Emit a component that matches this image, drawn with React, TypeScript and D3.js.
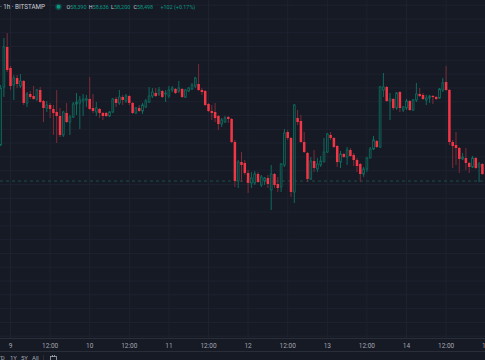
import React from "react";
import * as d3 from "d3";

const W = 485;
const H = 360;

// BTC/USD 1h candles, Bitstamp. Each row: [open, high, low, close]
const day8 = [
  [58773, 59643, 58758, 59599],
  [59614, 60324, 59469, 60194],
  [60194, 60396, 59831, 59860],
];
const day9 = [
  [59889, 59918, 59570, 59628], [59643, 59788, 59425, 59744], [59744, 59788, 59599, 59657], [59628, 59802, 59599, 59701],
  [59701, 59715, 59353, 59382], [59382, 59541, 59324, 59512], [59512, 59556, 59440, 59469], [59483, 59628, 59425, 59440],
  [59440, 59585, 59411, 59570], [59570, 59614, 59382, 59396], [59411, 59425, 59106, 59309], [59309, 59411, 59251, 59353],
  [59353, 59382, 59164, 59295], [59295, 59353, 58918, 59237], [59251, 59570, 58802, 59193], [59193, 59309, 58889, 58918],
  [58918, 59266, 58889, 59251], [59237, 59382, 59092, 59106], [59106, 59208, 58918, 59179], [59179, 59396, 59164, 59367],
  [59367, 59527, 59208, 59396], [59382, 59483, 59005, 59425], [59411, 59512, 59193, 59440], [59425, 59498, 59324, 59440],
];
const day10 = [
  [59440, 59759, 59280, 59295], [59309, 59512, 59237, 59266], [59251, 59396, 59193, 59309], [59295, 59309, 59164, 59237],
  [59237, 59251, 59135, 59193], [59237, 59251, 59179, 59193], [59193, 59266, 59179, 59251], [59251, 59454, 59237, 59440],
  [59440, 59469, 59324, 59382], [59382, 59570, 59353, 59469], [59469, 59498, 59353, 59425], [59411, 59512, 59382, 59483],
  [59483, 59498, 59353, 59382], [59382, 59396, 59222, 59237], [59237, 59324, 59222, 59309], [59309, 59353, 59251, 59266],
  [59266, 59382, 59222, 59353], [59324, 59440, 59309, 59411], [59396, 59614, 59382, 59483], [59483, 59599, 59454, 59541],
  [59527, 59599, 59469, 59483], [59512, 59614, 59483, 59570], [59556, 59570, 59454, 59469], [59512, 59570, 59396, 59527],
];
const day11 = [
  [59483, 59628, 59454, 59570], [59570, 59628, 59541, 59599], [59585, 59599, 59512, 59527], [59556, 59701, 59527, 59599],
  [59585, 59599, 59454, 59469], [59469, 59585, 59454, 59570], [59556, 59614, 59541, 59599], [59585, 59672, 59570, 59643],
  [59628, 59759, 59599, 59744], [59657, 59947, 59556, 59570], [59570, 59599, 59498, 59541], [59556, 59570, 59338, 59353],
  [59367, 59382, 59251, 59266], [59266, 59353, 59135, 59237], [59251, 59382, 59106, 59164], [59193, 59208, 58990, 59077],
  [59077, 59164, 59034, 59135], [59106, 59193, 59092, 59164], [59179, 59193, 59092, 59150], [59150, 59164, 58802, 58816],
  [58816, 58845, 58164, 58251], [58251, 58555, 58149, 58526], [58526, 58671, 58236, 58483], [58512, 58555, 58338, 58367],
];
const day12 = [
  [58367, 58410, 58077, 58222], [58222, 58381, 58149, 58294], [58222, 58396, 58193, 58352], [58352, 58381, 58222, 58236],
  [58193, 58338, 58164, 58309], [58251, 58309, 58193, 58294], [58294, 58338, 58149, 58207], [58120, 58483, 57830, 58352],
  [58352, 58367, 58149, 58193], [58207, 58309, 58091, 58149], [58164, 58512, 58091, 58497], [58483, 59005, 58454, 58947],
  [58961, 58990, 58845, 58874], [58874, 58889, 58019, 58091], [58091, 59367, 57932, 59353], [59164, 59280, 59063, 59106],
  [59121, 59208, 58802, 58816], [58816, 58961, 58657, 58671], [58657, 58671, 58236, 58280], [58280, 58599, 58265, 58541],
  [58541, 58700, 58381, 58439], [58425, 58584, 58381, 58497], [58483, 58613, 58454, 58541], [58526, 58874, 58526, 58671],
];
const day13 = [
  [58671, 58947, 58657, 58932], [58918, 58961, 58845, 58874], [58874, 58889, 58729, 58744], [58758, 58773, 58454, 58526],
  [58526, 58686, 58439, 58642], [58642, 58657, 58584, 58599], [58599, 58744, 58483, 58700], [58700, 58729, 58599, 58613],
  [58628, 58657, 58468, 58555], [58555, 58584, 58381, 58468], [58497, 58512, 58236, 58352], [58352, 58454, 58309, 58425],
  [58425, 58599, 58381, 58584], [58584, 58744, 58584, 58715], [58715, 58903, 58700, 58845], [58831, 58845, 58729, 58744],
  [58744, 59628, 58729, 59614], [59570, 59817, 59469, 59614], [59614, 59628, 59396, 59411], [59411, 59527, 59135, 59440],
  [59440, 59454, 59280, 59309], [59309, 59541, 59280, 59527], [59541, 59556, 59251, 59309], [59280, 59338, 59251, 59324],
];
const day14 = [
  [59309, 59440, 59280, 59411], [59411, 59425, 59266, 59280], [59280, 59440, 59266, 59425], [59425, 59672, 59396, 59512],
  [59512, 59599, 59469, 59483], [59498, 59527, 59425, 59440], [59425, 59498, 59353, 59454], [59454, 59498, 59382, 59483],
  [59483, 59498, 59367, 59469], [59469, 59483, 59425, 59440], [59454, 59599, 59440, 59585], [59570, 59744, 59541, 59672],
  [59686, 59918, 59556, 59570], [59570, 59585, 58773, 58816], [58816, 58845, 58439, 58758], [58773, 58961, 58483, 58729],
  [58729, 58744, 58367, 58570], [58570, 58657, 58555, 58599], [58584, 58729, 58410, 58512], [58512, 58526, 58367, 58454],
  [58454, 58613, 58439, 58584], [58584, 58599, 58425, 58439], [58454, 58526, 58236, 58497], [58497, 58512, 58338, 58352],
];

const firstCandle = Date.UTC(2024, 7, 8, 21);
const lastPrice = 58250;
const legendKeys = ["O", "H", "L", "C"];
const legendValues = ["58,390", "58,636", "58,200", "58,498"];
const legendChange = "+102 (+0.17%)";
const rangeButtons = ["YTD", "1Y", "5Y", "All"];

const BG = "#161a25";
const GRID = "#1e2230";
const UP = "#0e6b5e";
const UP_FILL = "#14262b";
const DOWN = "#f23645";
const DOWN_WICK = "#7e2a37";
const TEXT = "#a3a6af";
const FONT = "Roboto, 'Liberation Sans', sans-serif";

export default function App() {
  const plotBottom = 338;

  const candles = [day8, day9, day10, day11, day12, day13, day14].flat().map((d, i) => ({
    date: new Date(firstCandle + i * 3600 * 1000),
    open: d[0],
    high: d[1],
    low: d[2],
    close: d[3],
  }));

  const x = d3
    .scaleUtc()
    .domain([new Date(Date.UTC(2024, 7, 9)), new Date(Date.UTC(2024, 7, 15))])
    .range([10.5, 485.7]);
  const y = d3.scaleLinear().domain([55974, 60875]).range([plotBottom, 0]);

  const timeTicks = x.ticks(d3.utcHour.every(12));
  const fmt = (d) => (d.getUTCHours() === 0 ? d3.utcFormat("%-d")(d) : "12:00");
  const priceTicks = d3.range(56000, 61000, 200);
  const bodyW = 2.5;

  return (
    <div style={{ position: "fixed", left: 0, top: 0, width: W, height: H }}>
      <svg width={W} height={H} style={{ display: "block", background: BG }}>
        <rect width={W} height={H} fill={BG} />
        <g>
          {priceTicks.map((p) => (
            <line key={p} x1={0} x2={W} y1={y(p)} y2={y(p)} stroke={GRID} strokeWidth={1} />
          ))}
          {timeTicks.map((t) => (
            <line key={+t} x1={x(t)} x2={x(t)} y1={0} y2={plotBottom} stroke={GRID} strokeWidth={1} />
          ))}
        </g>
        <line x1={0} x2={W} y1={y(lastPrice)} y2={y(lastPrice)} stroke="#1b4d48" strokeWidth={1} strokeDasharray="3,3" />
        <g>
          {candles.map((c, i) => {
            const cx = x(c.date);
            const up = c.close >= c.open;
            const top = y(Math.max(c.open, c.close));
            const bot = y(Math.min(c.open, c.close));
            return (
              <g key={i}>
                <line x1={cx} x2={cx} y1={y(c.high)} y2={y(c.low)} stroke={up ? UP : DOWN_WICK} strokeWidth={1} />
                {up ? (
                  <rect x={cx - bodyW / 2 + 0.35} y={top} width={bodyW - 0.7} height={Math.max(bot - top, 0.8)} fill={UP_FILL} stroke={UP} strokeWidth={0.8} />
                ) : (
                  <rect x={cx - bodyW / 2} y={top} width={bodyW} height={Math.max(bot - top, 1)} fill={DOWN} />
                )}
              </g>
            );
          })}
        </g>
        <line x1={0} x2={W} y1={plotBottom + 0.5} y2={plotBottom + 0.5} stroke="#2a2e39" />
        <g fontFamily={FONT} fontSize={6.5} fill={TEXT} textAnchor="middle">
          {timeTicks.map((t) => (
            <text key={+t} x={x(t)} y={347.5}>{fmt(t)}</text>
          ))}
        </g>
        <line x1={0} x2={W} y1={351.5} y2={351.5} stroke="#2a2e39" />
        <g fontFamily={FONT} fontSize={6.3}>
          <text x={0} y={9} fill="#c9ccd4">· 1h · BITSTAMP</text>
          <circle cx={58.5} cy={6.8} r={3.4} fill="#089981" opacity={0.3} />
          <circle cx={58.5} cy={6.8} r={2} fill="#089981" />
          {legendKeys.map((k, i) => (
            <text key={k} x={66.5 + i * 22.3} y={9} fill="#c9ccd4" fontSize={5.4}>
              {k}
              <tspan fill="#089981">{legendValues[i]}</tspan>
            </text>
          ))}
          <text x={160.5} y={9} fill="#089981" fontSize={5.4}>{legendChange}</text>
        </g>
        <g fontFamily={FONT} fontSize={6} fill={TEXT}>
          {rangeButtons.map((b, i) => (
            <text key={b} x={[-6.5, 10, 21, 32][i]} y={360}>{b}</text>
          ))}
          <line x1={43.5} x2={43.5} y1={355} y2={360} stroke="#2a2e39" />
          <rect x={50.5} y={356.5} width={6} height={6} fill="none" stroke={TEXT} strokeWidth={0.8} />
          <line x1={52.5} x2={52.5} y1={355} y2={357} stroke={TEXT} strokeWidth={0.8} />
          <line x1={54.5} x2={54.5} y1={355} y2={357} stroke={TEXT} strokeWidth={0.8} />
        </g>
      </svg>
    </div>
  );
}
